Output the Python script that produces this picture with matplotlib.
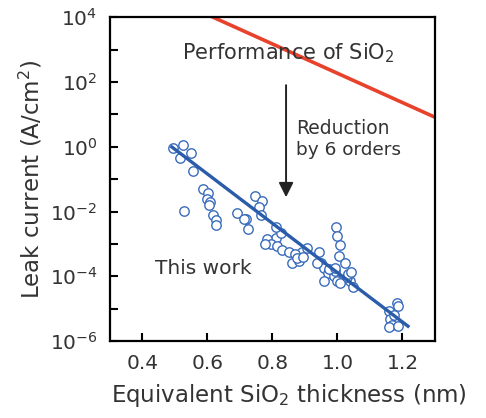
import numpy as np
import matplotlib
matplotlib.use("Agg")
import matplotlib.pyplot as plt
from matplotlib.ticker import FixedLocator, NullFormatter

plt.rcParams['font.family'] = ['DejaVu Sans']
plt.rcParams['mathtext.fontset'] = 'dejavusans'

# measured points (thickness nm, log10 leak current)
thickness = [0.493, 0.524, 0.551, 0.517, 0.557, 0.588, 0.603, 0.600, 0.609, 0.606,
             0.618, 0.625, 0.628, 0.529, 0.692, 0.720, 0.745, 0.769, 0.760, 0.766,
             0.714, 0.726, 0.812, 0.782, 0.797, 0.778, 0.815, 0.831, 0.852, 0.861,
             0.883, 0.892, 0.905, 0.942, 0.951, 0.960, 0.972, 0.988, 0.960, 0.997,
             1.000, 1.009, 1.006, 0.991, 1.000, 1.009, 0.938, 0.975, 0.994, 1.040,
             1.049, 1.028, 1.034, 1.043, 1.022, 1.182, 1.185, 1.160, 1.163, 1.169,
             1.160, 1.185, 1.175, 0.825, 0.868, 0.877, 0.812, 0.895]
log_current = [-0.04, 0.06, -0.19, -0.34, -0.74, -1.30, -1.42, -1.61, -1.70, -1.79,
               -2.10, -2.25, -2.41, -1.98, -2.04, -2.22, -1.51, -1.67, -1.86, -2.10,
               -2.22, -2.53, -2.81, -2.84, -2.99, -2.99, -3.06, -3.18, -3.24, -3.58,
               -3.52, -3.24, -3.12, -3.24, -3.58, -3.74, -3.89, -3.98, -4.14, -2.47,
               -2.75, -3.03, -3.37, -3.83, -4.14, -4.20, -3.58, -3.77, -3.74, -4.16,
               -4.32, -4.03, -3.92, -3.87, -3.58, -4.83, -4.92, -5.08, -5.33, -5.49,
               -5.55, -5.52, -5.18, -2.67, -3.31, -3.43, -2.47, -3.40]

fit_x = [0.491, 1.217]
fit_log = [-0.01, -5.54]

sio2_x = [0.617, 1.30]
sio2_log = [4.0, 0.91]

current = 10.0 ** np.array(log_current)

fig = plt.figure(figsize=(4.86, 4.18), dpi=100)
ax = fig.add_axes([0.226, 0.184, 0.669, 0.775])

ax.plot(sio2_x, 10.0 ** np.array(sio2_log), color='#e8412c', linewidth=2.6)
ax.scatter(thickness, current, s=46, facecolors='white', edgecolors='#3a6cbc',
           linewidths=1.0, zorder=3)
ax.plot(fit_x, 10.0 ** np.array(fit_log), color='#2a5caa', linewidth=2.4, zorder=4)

ax.set_yscale('log')
ax.set_xlim(0.3, 1.3)
ax.set_ylim(1e-6, 1e4)

ax.xaxis.set_major_locator(FixedLocator([0.4, 0.6, 0.8, 1.0, 1.2]))
ax.set_xticklabels(['0.4', '0.6', '0.8', '1.0', '1.2'])
ax.yaxis.set_major_locator(FixedLocator([1e-6, 1e-4, 1e-2, 1e0, 1e2, 1e4]))
ax.set_yticklabels(['$10^{-6}$', '$10^{-4}$', '$10^{-2}$', '$10^{0}$', '$10^{2}$', '$10^{4}$'])
ax.yaxis.set_minor_locator(FixedLocator([1e-5, 1e-3, 1e-1, 1e1, 1e3]))
ax.yaxis.set_minor_formatter(NullFormatter())
ax.xaxis.set_minor_locator(FixedLocator([]))

ax.tick_params(axis='both', which='both', direction='in', length=6, width=1.5,
               labelsize=14.5, labelcolor='#333333', pad=9)
for s in ax.spines.values():
    s.set_linewidth(1.6)

ax.set_xlabel('Equivalent SiO$_2$ thickness (nm)', fontsize=16.5, color='#333333')
ax.xaxis.set_label_coords(0.55, -0.127)
ax.set_ylabel('Leak current (A/cm$^2$)', fontsize=16.5, color='#333333', labelpad=4)

ax.text(0.522, 10 ** 2.89, 'Performance of SiO$_2$', fontsize=15, color='#333333',
        va='center', ha='left')
ax.text(0.872, 10 ** 0.57, 'Reduction', fontsize=13.5, color='#333333', va='center', ha='left')
ax.text(0.872, 10 ** -0.1, 'by 6 orders', fontsize=13.3, color='#333333', va='center', ha='left')
ax.text(0.438, 10 ** -3.75, 'This work', fontsize=14.5, color='#333333', va='center', ha='left')

ax.annotate('', xy=(0.842, 10 ** -1.56), xytext=(0.842, 10 ** 1.9),
            arrowprops=dict(arrowstyle='-|>', color='#222222', lw=1.4,
                            mutation_scale=22, shrinkA=0, shrinkB=0))

fig.savefig('out.png', dpi=100)
